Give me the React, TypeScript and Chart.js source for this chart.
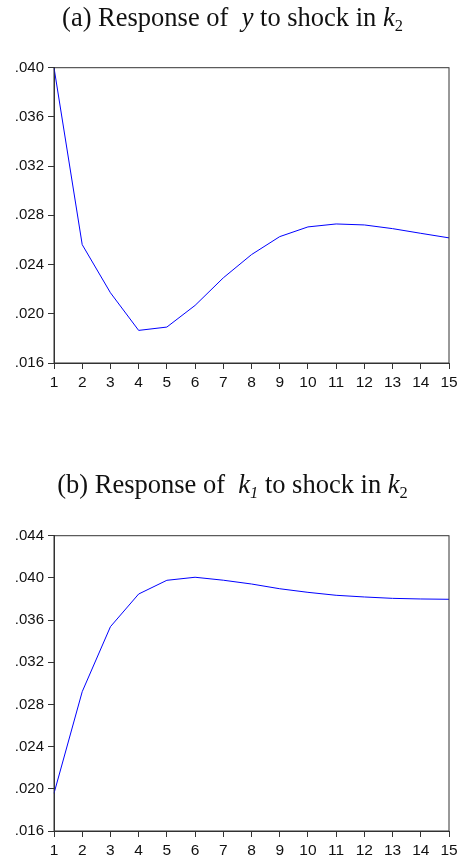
import React, { useEffect, useRef } from "react";
import { Chart, registerables } from "chart.js";

Chart.register(...registerables);

const periods = ["1", "2", "3", "4", "5", "6", "7", "8", "9", "10", "11", "12", "13", "14", "15"];
const responseY = [0.0400, 0.02562, 0.02171, 0.01865, 0.01892, 0.02068, 0.02292, 0.02481, 0.02627, 0.02706, 0.0273, 0.02722, 0.02692, 0.02654, 0.02617];
const responseK1 = [0.01957, 0.02921, 0.03537, 0.03847, 0.03977, 0.04006, 0.03978, 0.03942, 0.03897, 0.03863, 0.03835, 0.03819, 0.03806, 0.0380, 0.03797];
const yTicksA = { min: 0.016, max: 0.040, step: 0.004 };
const yTicksB = { min: 0.016, max: 0.044, step: 0.004 };

const frame = {
  id: "frame",
  afterDraw(chart: any) {
    const { ctx, chartArea } = chart;
    ctx.save();
    ctx.strokeStyle = "#333";
    ctx.lineWidth = 1;
    ctx.strokeRect(chartArea.left, chartArea.top, chartArea.right - chartArea.left, chartArea.bottom - chartArea.top);
    ctx.restore();
  },
};

function IrfChart(props: { data: number[]; range: { min: number; max: number; step: number }; top: number; height: number; areaTop: number; areaBottom: number }) {
  const ref = useRef<HTMLCanvasElement>(null);
  useEffect(() => {
    const xAxisH = 30;
    const chart = new Chart(ref.current!, {
      type: "line",
      data: {
        labels: periods,
        datasets: [{ data: props.data, borderColor: "#0000ff", borderWidth: 1, pointRadius: 0, tension: 0, fill: false }],
      },
      options: {
        animation: false,
        responsive: false,
        maintainAspectRatio: false,
        events: [],
        layout: { padding: { left: 0, right: 8, top: props.areaTop, bottom: props.height - props.areaBottom - xAxisH } },
        plugins: { legend: { display: false }, tooltip: { enabled: false }, title: { display: false } },
        scales: {
          x: {
            offset: false,
            afterFit: (s: any) => { s.height = xAxisH; s.paddingLeft = 0; s.paddingRight = 0; },
            grid: { drawOnChartArea: false, drawTicks: true, tickLength: 6, color: "#333", offset: false },
            border: { display: true, color: "#333" },
            ticks: { color: "#111", font: { family: "Liberation Sans, Arial", size: 15.5 }, padding: 4, maxRotation: 0, autoSkip: false },
          },
          y: {
            min: props.range.min,
            max: props.range.max,
            afterFit: (s: any) => { s.width = 54; s.paddingTop = 0; s.paddingBottom = 0; },
            grid: { drawOnChartArea: false, drawTicks: true, tickLength: 6, color: "#333" },
            border: { display: true, color: "#333" },
            ticks: {
              stepSize: props.range.step,
              color: "#111",
              font: { family: "Liberation Sans, Arial", size: 15 },
              padding: 4,
              callback: (v: any) => Number(v).toFixed(3).replace(/^0/, ""),
            },
          },
        },
      },
      plugins: [frame],
    });
    return () => chart.destroy();
  }, []);
  return (
    <canvas
      ref={ref}
      width={457}
      height={props.height}
      style={{ position: "absolute", left: 0, top: props.top, width: 457, height: props.height }}
    />
  );
}

const titleStyle: React.CSSProperties = {
  position: "absolute",
  left: 0,
  width: 465,
  textAlign: "center",
  fontFamily: "'Liberation Serif', 'Times New Roman', serif",
  fontSize: 26.5,
  lineHeight: "26.5px",
  color: "#111",
  whiteSpace: "pre",
};
const subStyle: React.CSSProperties = { fontSize: "0.62em", verticalAlign: "-0.3em", lineHeight: 0 };

export default function App() {
  return (
    <div style={{ position: "absolute", left: 0, top: 0, width: 457, height: 858, background: "#fff", overflow: "hidden" }}>
      <IrfChart data={responseY} range={yTicksA} top={0} height={429} areaTop={67.7} areaBottom={363} />
      <IrfChart data={responseK1} range={yTicksB} top={429} height={429} areaTop={535.7 - 429} areaBottom={831 - 429} />
      <div style={{ ...titleStyle, top: 4 }}>
        (a) Response of{"  "}<i>y</i> to shock in <i>k</i><span style={subStyle}>2</span>
      </div>
      <div style={{ ...titleStyle, top: 471 }}>
        (b) Response of{"  "}<i>k<span style={subStyle}>1</span></i> to shock in <i>k</i><span style={subStyle}>2</span>
      </div>
    </div>
  );
}
